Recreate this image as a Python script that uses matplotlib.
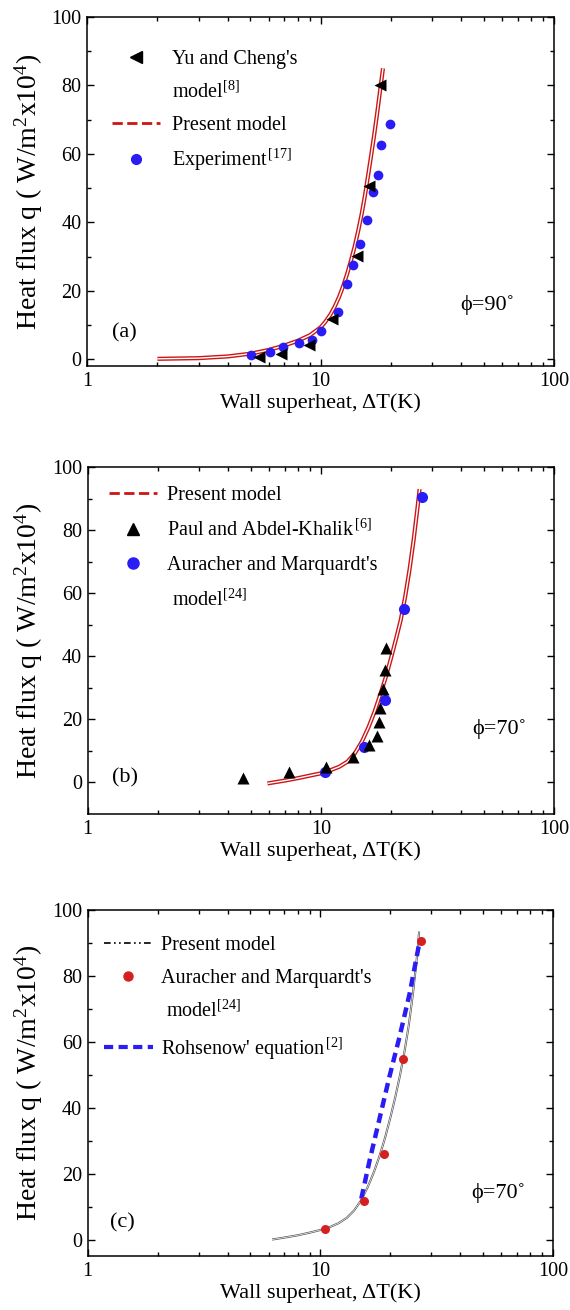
import matplotlib
matplotlib.use("Agg")
import matplotlib.pyplot as plt
from matplotlib.lines import Line2D
from matplotlib.ticker import FixedLocator, NullFormatter, LogLocator

plt.rcParams['font.family'] = ['Liberation Serif', 'DejaVu Serif']
plt.rcParams['mathtext.fontset'] = 'custom'
plt.rcParams['mathtext.rm'] = 'Liberation Serif'
plt.rcParams['mathtext.it'] = 'Liberation Serif:italic'

# ---------------- data: panel (a) ----------------
a_yu_x = [5.45, 6.75, 8.9, 11.2, 14.3, 16.1, 18.05]
a_yu_y = [0.6, 1.4, 4.2, 11.6, 30.3, 50.6, 80.0]
a_exp_x = [5.02, 6.07, 6.93, 8.08, 9.15, 10.0, 11.86, 12.92, 13.7, 14.73, 15.73, 16.8, 17.58, 18.23, 19.9]
a_exp_y = [1.3, 2.0, 3.5, 4.7, 5.7, 8.3, 13.7, 22.0, 27.4, 33.7, 40.8, 48.8, 53.8, 62.7, 68.8]
a_model_x = [2, 3, 4, 5, 6, 7, 8, 9, 10, 10.5, 11, 11.5, 12, 12.5, 13, 13.5, 14, 14.5, 15,
             15.5, 16, 16.5, 17, 17.5, 18, 18.5]
a_model_y = [0.1, 0.3, 0.8, 1.6, 2.7, 4.0, 5.4, 7.0, 9.3, 11.0, 13.0, 15.4, 18.2, 21.4, 25.0,
             28.9, 33.0, 37.6, 42.5, 48.0, 54.0, 60.0, 66.0, 72.3, 78.8, 85.0]

# ---------------- data: panel (b) ----------------
b_paul_x = [4.65, 7.33, 10.5, 13.68, 16.1, 17.4, 17.7, 18.0, 18.4, 18.8, 19.0]
b_paul_y = [1.5, 3.2, 5.0, 8.2, 11.9, 14.7, 19.3, 23.5, 29.7, 35.5, 42.6]
b_aur_x = [10.37, 15.3, 18.8, 22.7, 27.2]
b_aur_y = [3.2, 11.3, 26.0, 55.0, 90.6]
b_model_x = [5.9, 7, 8, 9, 10, 11, 12, 13, 14, 15, 16, 17, 18, 19, 20, 21, 22, 23, 24, 25, 26, 26.5]
b_model_y = [-0.3, 0.6, 1.4, 2.2, 2.9, 3.9, 5.0, 6.6, 9.3, 13.0, 17.5, 22.5, 28.0, 33.5, 39.5,
             45.5, 51.5, 59.0, 67.5, 77.0, 87.5, 93.0]

# ---------------- data: panel (c) ----------------
c_aur_x = [10.44, 15.4, 18.7, 22.7, 27.2]
c_aur_y = [3.3, 11.6, 25.9, 54.7, 90.5]
c_model_x = [6.2, 7, 8, 9, 10, 11, 12, 13, 14, 15, 16, 17, 18, 19, 20, 21, 22, 23, 24, 25, 26, 26.6]
c_model_y = [0, 0.6, 1.3, 2.1, 2.9, 3.8, 5.0, 6.6, 8.9, 12.0, 16.0, 20.5, 25.5, 31.0, 37.0,
             43.2, 49.8, 57.0, 65.0, 74.5, 85.5, 93.5]
c_rohs_x = [15.0, 16.3, 17.9, 19.8, 21.9, 24.2, 26.7]
c_rohs_y = [12.4, 24.1, 36.2, 49.3, 61.5, 74.6, 90.3]

x_ticks = [1, 10, 100]
x_ticklabels = ['1', '10', '100']
y_ticks = [0, 20, 40, 60, 80, 100]
y_ticklabels = ['0', '20', '40', '60', '80', '100']

BLUE = '#2a1cf5'
RED = '#cc1515'
TICK_FS = 14.5
XLABEL_FS = 16
YLABEL_FS = 20
LEG_FS = 14.5

fig = plt.figure(figsize=(5.7, 13.1), dpi=100)
ax_a = fig.add_axes([0.153, 0.7206, 0.819, 0.2664])
ax_b = fig.add_axes([0.154, 0.3786, 0.818, 0.2649])
ax_c = fig.add_axes([0.154, 0.0412, 0.816, 0.2641])


def style(ax, ylim):
    ax.set_xscale('log')
    ax.set_xlim(1, 100)
    ax.set_ylim(*ylim)
    ax.set_xticks(x_ticks)
    ax.set_xticklabels(x_ticklabels, fontsize=TICK_FS)
    ax.xaxis.set_minor_locator(LogLocator(base=10, subs=range(2, 10)))
    ax.xaxis.set_minor_formatter(NullFormatter())
    ax.set_yticks(y_ticks)
    ax.set_yticklabels(y_ticklabels, fontsize=TICK_FS)
    ax.yaxis.set_minor_locator(FixedLocator([10, 30, 50, 70, 90]))
    ax.tick_params(which='both', direction='in', top=True, right=True, width=1.0)
    ax.tick_params(which='major', length=5, pad=4)
    ax.tick_params(which='minor', length=3)
    for s in ax.spines.values():
        s.set_linewidth(1.1)
    ax.set_xlabel('Wall superheat, \u0394T(K)', fontsize=XLABEL_FS, labelpad=2)
    ax.set_ylabel('Heat flux q ( W/m$^2$x10$^4$)', fontsize=YLABEL_FS, labelpad=5)


def double_line(ax, x, y, outer, inner_w, outer_w):
    ax.plot(x, y, color=outer, lw=outer_w, solid_capstyle='butt', solid_joinstyle='round', zorder=2)
    ax.plot(x, y, color='white', lw=inner_w, solid_capstyle='butt', solid_joinstyle='round', zorder=2.1)


# ---- panel (a) ----
style(ax_a, (-2, 100))
double_line(ax_a, a_model_x, a_model_y, RED, 1.0, 3.0)
ax_a.plot(a_exp_x, a_exp_y, 'o', color=BLUE, ms=7, mec='none', zorder=3)
ax_a.plot(a_yu_x, a_yu_y, '<', color='black', ms=9, mec='none', zorder=3)
h = [Line2D([], [], ls='none', marker='<', color='black', ms=9),
     Line2D([], [], ls='none'),
     Line2D([], [], color=RED, ls='--', lw=2),
     Line2D([], [], ls='none', marker='o', color=BLUE, ms=7)]
l = ["Yu and Cheng's", 'model$^{[8]}$', 'Present model', 'Experiment$^{\\,[17]}$']
ax_a.legend(h, l, loc='upper left', frameon=False, fontsize=LEG_FS,
            handlelength=2.4, handletextpad=0.6, labelspacing=0.62,
            borderaxespad=0.3, bbox_to_anchor=(0.022, 0.945))
ax_a.text(0.08, 0.095, '(a)', transform=ax_a.transAxes, fontsize=XLABEL_FS,
          ha='center', va='center')
ax_a.text(0.857, 0.175, '\u03d5=90\u02da', transform=ax_a.transAxes, fontsize=XLABEL_FS,
          ha='center', va='center')

# ---- panel (b) ----
style(ax_b, (-10, 100))
double_line(ax_b, b_model_x, b_model_y, RED, 1.0, 3.0)
ax_b.plot(b_aur_x, b_aur_y, 'o', color=BLUE, ms=8, mec='none', zorder=3)
ax_b.plot(b_paul_x, b_paul_y, '^', color='black', ms=8, mec='none', zorder=3)
h = [Line2D([], [], color=RED, ls='--', lw=2),
     Line2D([], [], ls='none', marker='^', color='black', ms=8),
     Line2D([], [], ls='none', marker='o', color=BLUE, ms=8),
     Line2D([], [], ls='none')]
l = ['Present model', 'Paul and Abdel-Khalik$^{\\,[6]}$', "Auracher and Marquardt's", ' model$^{[24]}$']
ax_b.legend(h, l, loc='upper left', frameon=False, fontsize=LEG_FS,
            handlelength=2.4, handletextpad=0.5, labelspacing=0.72,
            borderaxespad=0.3, bbox_to_anchor=(0.015, 0.985))
ax_b.text(0.08, 0.104, '(b)', transform=ax_b.transAxes, fontsize=XLABEL_FS,
          ha='center', va='center')
ax_b.text(0.882, 0.245, '\u03d5=70\u02da', transform=ax_b.transAxes, fontsize=XLABEL_FS,
          ha='center', va='center')

# ---- panel (c) ----
style(ax_c, (-5, 100))
double_line(ax_c, c_model_x, c_model_y, '#555555', 0.5, 1.5)
ax_c.plot(c_rohs_x, c_rohs_y, '--', color=BLUE, lw=3.2, dashes=(2.2, 1.3), zorder=2.5)
ax_c.plot(c_aur_x, c_aur_y, 'o', color='#d42020', ms=6.5, mec='none', zorder=3)
h = [Line2D([], [], color='black', ls=(0, (4, 2, 1, 2, 1, 2)), lw=1.2),
     Line2D([], [], ls='none', marker='o', color='#d42020', ms=6.5),
     Line2D([], [], ls='none'),
     Line2D([], [], color=BLUE, ls='--', lw=3, dashes=(2.2, 1.3))]
l = ['Present model', "Auracher and Marquardt's", ' model$^{[24]}$', "Rohsenow' equation$^{\\,[2]}$"]
ax_c.legend(h, l, loc='upper left', frameon=False, fontsize=LEG_FS,
            handlelength=2.4, handletextpad=0.4, labelspacing=0.66,
            borderaxespad=0.3, bbox_to_anchor=(0.005, 0.965))
ax_c.text(0.075, 0.095, '(c)', transform=ax_c.transAxes, fontsize=XLABEL_FS,
          ha='center', va='center')
ax_c.text(0.882, 0.182, '\u03d5=70\u02da', transform=ax_c.transAxes, fontsize=XLABEL_FS,
          ha='center', va='center')

fig.savefig('out.png', dpi=100)
